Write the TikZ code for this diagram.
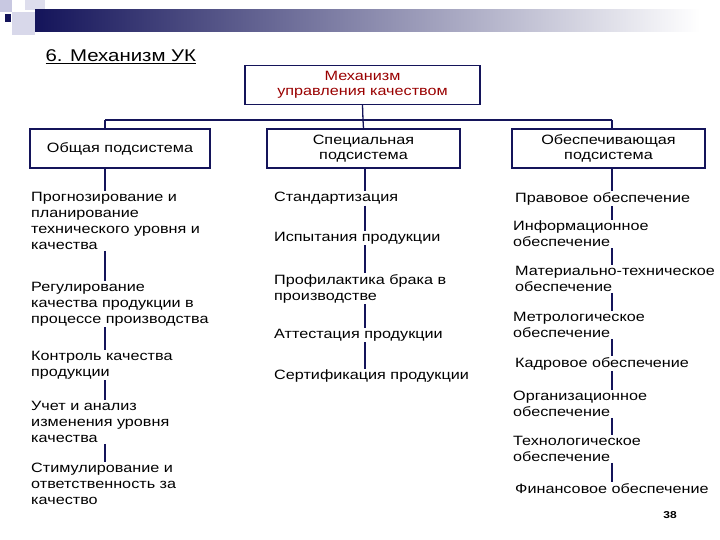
\documentclass[tikz,border=0pt]{standalone}
\usepackage{fontspec}
\setmainfont[FakeStretch=1.2]{Liberation Sans}
\definecolor{navy}{RGB}{20,20,90}
\definecolor{lav}{RGB}{200,200,225}
\begin{document}
\begin{tikzpicture}[x=1pt,y=-1pt,
  item/.style={anchor=north west,align=left,inner sep=1pt,fill=white,font=\fontsize{13.5}{16}\selectfont},
  hbox/.style={draw=navy,line width=1.2pt,minimum height=39pt,align=center,font=\fontsize{13.5}{14.5}\selectfont},
  conn/.style={draw=navy,line width=1.3pt}]
\useasboundingbox (0,0) rectangle (720,540);
% header decoration
\fill[lav] (0,0) rectangle (12,12);
\fill[lav!70] (12,12) rectangle (35,35);
\fill[lav!60] (25,0) rectangle (45,10);
\fill[navy] (5,14) rectangle (11,22);
\shade[left color=navy,right color=white] (35,10) rectangle (700,32);
\node[anchor=west,font=\fontsize{17}{19}\selectfont] (title) at (42,57) {\underline{6. Механизм УК}};
% boxes
\node[hbox,minimum width=235pt,text=red!60!black] (top) at (362.5,85) {Механизм\\управления качеством};
\node[hbox,minimum width=180pt] (b1) at (120,148.5) {Общая подсистема};
\node[hbox,minimum width=193pt] (b2) at (363.5,148.5) {Специальная\\подсистема};
\node[hbox,minimum width=193pt] (b3) at (608.5,148.5) {Обеспечивающая\\подсистема};
\coordinate (hl) at (105,120);
\coordinate (hr) at (612,120);
\coordinate (hm) at (363,120);
% left column
\node[item] (l1) at (30,191) {Прогнозирование и\\планирование\\технического уровня и\\качества};
\node[item] (l2) at (30,281) {Регулирование\\качества продукции в\\процессе производства};
\node[item] (l3) at (30,350) {Контроль качества\\продукции};
\node[item] (l4) at (30,400) {Учет и анализ\\изменения уровня\\качества};
\node[item] (l5) at (30,462) {Стимулирование и\\ответственность за\\качество};
% middle column
\node[item] (m1) at (273,191) {Стандартизация};
\node[item] (m2) at (273,231) {Испытания продукции};
\node[item] (m3) at (273,273) {Профилактика брака в\\производстве};
\node[item] (m4) at (273,328) {Аттестация продукции};
\node[item] (m5) at (273,369) {Сертификация продукции};
% right column
\node[item] (r1) at (514,191) {Правовое обеспечение};
\node[item] (r2) at (512,220) {Информационное\\обеспечение};
\node[item] (r3) at (514,265) {Материально-техническое\\обеспечение};
\node[item] (r4) at (512,311) {Метрологическое\\обеспечение};
\node[item] (r5) at (514,356) {Кадровое обеспечение};
\node[item] (r6) at (512,390) {Организационное\\обеспечение};
\node[item] (r7) at (512,435) {Технологическое\\обеспечение};
\node[item] (r8) at (514,482) {Финансовое обеспечение};
\node[font=\bfseries\fontsize{10}{12}\selectfont] (pg) at (670,515) {38};
% connectors
\draw[conn] (top.south) -- (hm) -- (b2.north);
\draw[conn] (hl) -- (hr);
\draw[conn] (hl) -- (hl |- b1.north);
\draw[conn] (hr) -- (hr |- b3.north);
\foreach \a/\b in {b1/l1,l1/l2,l2/l3,l3/l4,l4/l5}{\draw[conn] (105,0 |- \a.south) -- (105,0 |- \b.north);}
\foreach \a/\b in {b2/m1,m1/m2,m2/m3,m3/m4,m4/m5}{\draw[conn] (365,0 |- \a.south) -- (365,0 |- \b.north);}
\foreach \a/\b in {b3/r1,r1/r2,r2/r3,r3/r4,r4/r5,r5/r6,r6/r7,r7/r8}{\draw[conn] (612,0 |- \a.south) -- (612,0 |- \b.north);}
\end{tikzpicture}
\end{document}
